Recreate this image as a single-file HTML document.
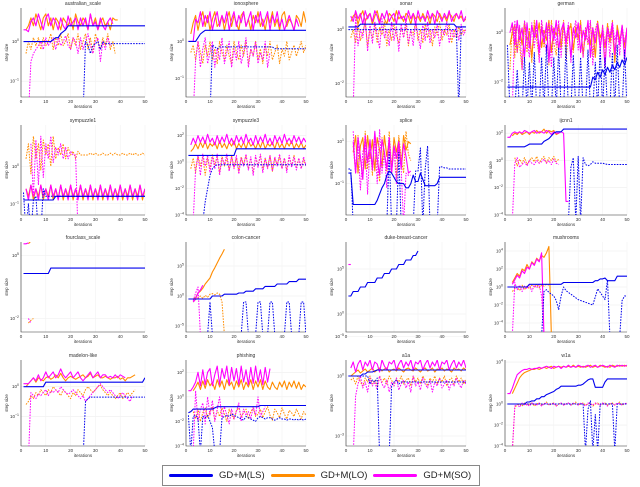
<!DOCTYPE html>
<html><head><meta charset="utf-8"><style>
body{margin:0;background:#fff;width:640px;height:487px;overflow:hidden;font-family:"Liberation Sans",sans-serif}
svg{display:block}
</style></head><body>
<svg id="fig" width="640" height="487"></svg>
<div style="position:absolute;left:162px;top:465px;width:318px;height:21px;border:1px solid #888;box-sizing:border-box;display:flex;align-items:center;font-size:9.5px;color:#222">
 <span style="display:flex;align-items:center;margin-left:6px"><i style="display:inline-block;width:44px;height:3px;background:#0000ee;border-radius:2px;margin-right:6px"></i>GD+M(LS)</span>
 <span style="display:flex;align-items:center;margin-left:6px"><i style="display:inline-block;width:44px;height:3px;background:#ff8c00;border-radius:2px;margin-right:6px"></i>GD+M(LO)</span>
 <span style="display:flex;align-items:center;margin-left:6px"><i style="display:inline-block;width:44px;height:3px;background:#ff00ff;border-radius:2px;margin-right:6px"></i>GD+M(SO)</span>
</div>
<script>
const N=null, L=-9;
const titles=["australian_scale","ionosphere","sonar","german","sympuzzle1","sympuzzle3","splice","ijcnn1","fourclass_scale","colon-cancer","duke-breast-cancer","mushrooms","madelon-like","phishing","a1a","w1a"];
const yRanges=[[-1.4,0.85],[-1.5,0.9],[-2.5,0.8],[-2.6,1.0],[-1.3,1.1],[-4,2.8],[-2.5,1.8],[-4,2.6],[-3.5,6.5],[-6,9],[-2,8],[-5,5],[-2,0.9],[-4,3],[-3.5,0.8],[-4,4.2]];
const tickVals=[[0,-1],[0,-1],[0,-2],[0,-2],[0,-1],[2,0,-2,-4],[1,-1],[2,0,-2,-4],[5,-2],[5,0,-5],[5,0,-5],[4,2,0,-2,-4],[0,-1],[2,0,-2,-4],[0,-3],[4,0,-2,-4]];
const lsSolid=[
[0,0,0,0,0,0,0,0,0,0,0,0,0.05,0.1,0.1,0.2,0.25,0.3,0.4,0.4,0.4,0.4,0.4,0.4,0.4,0.4,0.4,0.4,0.4,0.4,0.4,0.4,0.4,0.4,0.4,0.4,0.4,0.4,0.4,0.4,0.4,0.4,0.4,0.4,0.4,0.4,0.4,0.4,0.4,0.4],
[0,0,0,0,0.1,0.2,0.25,0.3,0.3,0.3,0.3,0.3,0.3,0.3,0.3,0.3,0.3,0.3,0.3,0.3,0.3,0.3,0.3,0.3,0.3,0.3,0.3,0.3,0.3,0.3,0.3,0.3,0.3,0.3,0.3,0.3,0.3,0.3,0.3,0.3,0.3,0.3,0.3,0.3,0.3,0.3,0.3,0.3,0.3,0.3],
[0.1,0.1,0.1,0.1,0.1,0.2,0.2,0.2,0.2,0.2,0.2,0.2,0.2,0.2,0.2,0.2,0.2,0.2,0.2,0.2,0.2,0.2,0.2,0.2,0.2,0.2,0.2,0.2,0.2,0.2,0.2,0.2,0.2,0.2,0.2,0.2,0.2,0.2,0.2,0.2,0.2,0.2,0.2,0.2,0.2,0.1,0.1,0.1,0.1,0.1],
[-2.2,-2.2,-2.2,-2.2,-2.2,-2.2,-2.2,-2.2,-2.2,-2.2,-2.2,-2.2,-2.2,-2.2,-2.2,-2.2,-2.2,-2.2,-2.2,-2.2,-2.2,-2.2,-2.2,-2.2,-2.2,-2.2,-2.2,-2.2,-2.2,-2.2,-2.2,-2.2,-2.2,-2.2,-2.2,-1.8,-1.9,-1.6,-1.8,-1.5,-1.7,-1.4,-1.6,-1.3,-1.5,-1.2,-1.4,-1.1,-1.3,-1.0],
[-0.9,-0.9,-0.9,-0.9,-0.9,-0.9,-0.9,-0.9,-0.9,-0.9,-0.9,-0.9,-0.9,-0.8,-0.8,-0.8,-0.8,-0.8,-0.8,-0.8,-0.8,-0.8,-0.8,-0.8,-0.8,-0.8,-0.8,-0.8,-0.8,-0.8,-0.8,-0.8,-0.8,-0.8,-0.8,-0.8,-0.8,-0.8,-0.8,-0.8,-0.8,-0.8,-0.8,-0.8,-0.8,-0.8,-0.8,-0.8,-0.8,-0.8],
[0.5,0.5,0.5,0.5,0.5,0.5,0.5,0.5,0.5,0.5,0.5,0.5,0.5,0.5,0.5,0.5,0.5,0.5,0.5,0.5,1,1,1,1,1,1,1,1,1,1,1,1,1,1,1,1,1,1,1,1,1,1,1,1,1,1,1,1,1,1],
[-0.5,-0.5,-2,-2,-2,-2,-2,-2,-2,-2,-2,-2,-1.8,-1.5,-1.2,-1,-0.6,-0.4,-0.5,-0.7,-0.9,-1,-1,-1,-1.2,-1.2,-1,-0.6,-0.9,-0.9,-0.5,-0.8,-1.1,-1.1,-1.1,-1.1,-1.1,-1,-0.7,-0.7,-0.7,-0.7,-0.7,-0.7,-0.7,-0.7,-0.7,-0.7,-0.7,-0.7],
[1,1,1,1,1,1,1,1,1.1,1.2,1.2,1.2,1.2,1.2,1.2,1.4,1.5,1.6,1.8,2,2.1,2.1,2.1,2.3,2.3,2.3,2.3,2.3,2.3,2.3,2.3,2.3,2.3,2.3,2.3,2.3,2.3,2.3,2.3,2.3,2.3,2.3,2.3,2.3,2.3,2.3,2.3,2.3,2.3,2.3],
[3,3,3,3,3,3,3,3,3,3,3,3.6,3.6,3.6,3.6,3.6,3.6,3.6,3.6,3.6,3.6,3.6,3.6,3.6,3.6,3.6,3.6,3.6,3.6,3.6,3.6,3.6,3.6,3.6,3.6,3.6,3.6,3.6,3.6,3.6,3.6,3.6,3.6,3.6,3.6,3.6,3.6,3.6,3.6,3.6],
[-0.5,-0.5,-0.5,-0.5,-0.5,-0.5,-0.5,-0.5,-0.5,-0.5,0,0,0,0,0,0.3,0.3,0.3,0.3,0.3,0.3,0.5,0.5,0.5,0.8,0.8,0.8,0.8,1.2,1.2,1.2,1.2,1.6,1.6,1.6,1.6,1.6,2,2,2,2,2,2.4,2.4,2.4,2.4,2.8,2.8,2.8,2.8],
[2,2,2.5,2.5,2.5,3,3,3,3.5,3.5,3.5,3.5,4,4,4,4.5,4.5,4.5,5,5,5,5.5,5.5,5.5,6,6,6,6.5,6.5,7],
[0,0,0,0,0,0,0,0,0,0.3,0.3,0.3,0.3,0.3,0.3,0.3,0.3,0.3,0.3,0.3,0.3,0.3,0.3,0.5,0.5,0.5,0.5,0.5,0.5,0.5,0.5,0.5,0.5,0.5,0.5,0.5,0.7,0.7,0.9,0.9,1,0.7,0.7,0.7,0.7,1.2,1.2,1.2,1.2,1.2],
[0,0,0,0,0,0,0,0,0,0.15,0.15,0.15,0.15,0.15,0.15,0.15,0.15,0.15,0.15,0.15,0.15,0.15,0.15,0.15,0.15,0.15,0.15,0.15,0.15,0.15,0.15,0.15,0.15,0.15,0.15,0.15,0.15,0.15,0.15,0.15,0.15,0.15,0.15,0.15,0.15,0.15,0.15,0.15,0.15,0.3],
[-1.3,-1.2,-1,-1,-1,-1,-1,-1,-1,-1,-1,-0.9,-0.8,-0.8,-0.8,-0.8,-0.8,-0.8,-0.8,-0.8,-0.8,-0.8,-0.8,-0.8,-0.8,-0.8,-0.8,-0.8,-0.8,-0.8,-0.7,-0.7,-0.7,-0.7,-0.7,-0.7,-0.7,-0.7,-0.7,-0.7,-0.7,-0.7,-0.7,-0.7,-0.7,-0.7,-0.7,-0.7,-0.7,-0.7],
[0,0,0,0,0,0,0.1,0.1,0.2,0.2,0.2,0.25,0.3,0.3,0.3,0.3,0.3,0.3,0.3,0.3,0.3,0.3,0.3,0.3,0.3,0.3,0.3,0.3,0.3,0.3,0.3,0.3,0.3,0.3,0.3,0.3,0.3,0.3,0.3,0.3,0.3,0.3,0.3,0.3,0.3,0.3,0.3,0.3,0.3,0.3],
[0,0,0,0,0,0,0,0,0.2,0.2,0.3,0.3,0.5,0.5,0.7,0.7,0.9,1,1.1,1.2,1.4,1.5,1.7,1.7,1.7,1.7,1.7,1.7,1.7,1.8,1.8,1.9,2.1,2.3,2.4,2.4,1.6,1.6,1.6,1.6,2.1,2.4,2.4,2.4,2.4,2.4,2.4,2.4,2.4,2.4]
];
const lsDash=[
[L,L,L,L,L,L,L,L,L,L,L,L,L,L,L,L,L,L,L,L,L,L,L,L,L,0,-0.1,-0.3,-0.1,-0.05,0,-0.2,0,-0.05,-0.05,-0.05,-0.05,-0.05,-0.05,-0.05,-0.05,-0.05,-0.05,-0.05,-0.05,-0.05,-0.05,-0.05,-0.05,-0.05],
[L,L,L,L,L,L,L,L,L,L,-0.1,-0.15,-0.2,-0.15,-0.15,-0.15,-0.15,-0.15,-0.15,-0.15,-0.15,-0.15,-0.15,-0.15,-0.15,-0.15,-0.15,-0.15,-0.15,-0.15,-0.15,-0.15,-0.15,-0.15,-0.15,-0.15,-0.2,-0.2,-0.2,-0.2,-0.2,-0.2,-0.2,-0.2,-0.2,-0.2,-0.2,-0.2,-0.2,-0.2],
[0,0,0,0,0,0,0,0,0,0,0,0,0,0,0,0,0,0,0,0,0,0,0,0,0,0,0,0,0,0,0,0,0,0,0,0,0,0,0,0,0,0,0,0,0,0,L,0.1,0.1,0.1],
[-0.5,L,L,L,-1.5,L,L,-1,L,-1.2,L,-0.8,L,L,-1,L,-0.5,L,L,-1,L,-0.6,L,L,-0.5,L,L,-0.9,L,L,-1,L,L,-0.7,L,L,-1.2,L,-0.6,L,-1,L,L,-0.8,L,-0.5,L,L,-0.7,L],
[-0.7,L,-1,L,-0.9,-0.8,L,L,-0.6,-0.8,-0.8,-0.8,-0.8,-0.8,-0.8,-0.8,-0.8,-0.8,-0.8,-0.8,-0.8,-0.8,-0.8,-0.8,-0.8,-0.8,-0.8,-0.8,-0.8,-0.8,-0.8,-0.8,-0.8,-0.8,-0.8,-0.8,-0.8,-0.8,-0.8,-0.8,-0.8,-0.8,-0.8,-0.8,-0.8,-0.8,-0.8,-0.8,-0.8,-0.8],
[L,L,L,L,L,L,L,-3,-2,-1,-0.5,-0.3,-0.2,-0.2,-0.2,-0.2,-0.2,-0.2,-0.2,-0.2,-0.2,-0.2,-0.2,-0.2,-0.2,-0.2,-0.2,-0.2,-0.2,-0.2,-0.2,-0.2,-0.2,-0.2,-0.2,-0.2,-0.2,-0.2,-0.2,-0.2,-0.2,-0.2,-0.2,-0.2,-0.2,-0.2,-0.2,-0.2,-0.2,-0.2],
[-0.3,-0.3,L,L,L,L,L,L,L,L,L,L,L,L,L,L,L,0.5,L,L,L,0.5,L,L,L,L,L,L,-0.4,-0.4,0.7,L,-0.3,0.8,L,L,L,L,-0.2,-0.2,-0.25,-0.25,-0.3,-0.3,-0.3,-0.3,-0.3,-0.3,-0.3,-0.3],
[L,L,L,L,L,L,L,L,L,L,L,L,L,L,L,L,L,L,L,L,L,L,L,L,L,L,-0.5,0.2,L,0.3,L,0.2,-0.3,-0.4,-0.3,-0.1,-0.2,-0.2,-0.2,-0.2,-0.25,-0.3,-0.3,-0.3,-0.3,-0.3,-0.3,-0.3,-0.3,-0.3],
[],
[L,L,L,L,L,L,L,L,L,-1,L,L,L,L,L,L,L,L,L,L,L,L,L,-1,-1,L,L,L,L,-1,-1,L,L,L,-1,-1,L,L,L,L,L,-1,-1,L,L,L,L,-1,-1,L],
[],
[L,L,L,L,L,L,L,L,L,L,L,L,L,L,L,-0.5,-0.3,-0.6,-0.8,-1,-1.5,-2.5,-1,0,-0.4,-0.6,-0.8,-1,-1.2,-1.4,-1.5,-1.6,-1.7,-1.8,-1.9,-2,-1.1,-0.2,-0.6,-1,-1.4,0.8,L,L,L,L,L,-1.5,-1,-1],
[L,L,L,L,L,L,L,L,L,L,L,L,L,L,L,L,L,L,L,L,L,L,L,L,L,-0.5,-0.4,-0.35,-0.35,-0.35,-0.35,-0.35,-0.35,-0.35,-0.35,-0.35,-0.35,-0.35,-0.35,-0.35,-0.35,-0.35,-0.35,-0.35,-0.35,-0.35,-0.35,-0.35,-0.35,-0.35],
[-1.5,L,-1.6,-1.5,-1.8,L,-1.6,-1.7,-1.5,-2,-2.5,L,L,L,-1.7,-1.6,-1.5,-1.6,-1.4,-1.5,-1.6,-1.7,-1.8,-1.9,-1.6,-1.7,-1.8,-1.9,-2,-1.7,-1.6,-1.7,-1.8,-1.7,-1.7,-1.8,-1.9,-1.8,-1.7,-1.8,-1.8,-1.9,-1.8,-1.8,-1.9,-1.8,-1.9,-1.8,-1.9,-1.8],
[0,0,0,0,0,0,0,0,0,-0.4,-0.2,-0.3,-0.1,L,L,L,L,L,-0.5,-0.3,-0.2,-0.4,-0.3,-0.3,-0.3,-0.3,-0.3,-0.3,-0.3,-0.3,-0.3,-0.3,-0.3,-0.3,-0.3,-0.3,-0.3,-0.3,-0.3,-0.3,-0.3,-0.3,-0.3,-0.3,-0.3,-0.3,-0.3,-0.3,-0.3,-0.3],
[0,0,0,0,0,0,0,0,0,0,0,0,0,0,0,0,0,0,0,0,0,0,0,0,0,0,0,0,0,0,0,0,L,-0.5,0.3,L,-1,L,0,0,0,0,0,0,L,0,0,0,0,0]
];
const loSolid=[
[N,0.3,0.4,0.6,0.4,0.7,0.5,0.3,0.6,0.7,0.4,0.6,0.3,0.6,0.5,0.3,0.6,0.5,0.4,0.6,0.3,0.7,0.5,0.4,0.6,0.5,0.3,0.7,0.4,0.6,0.3,0.5,0.6,0.4,0.5,0.3,0.6,0.55,0.55],
[N,0.2,0.5,0.7,0.3,0.6,0.8,0.4,0.7,0.3,0.6,0.8,0.4,0.5,0.7,0.3,0.6,0.8,0.4,0.7,0.5,0.3,0.7,0.8,0.4,0.6,0.3,0.7,0.5,0.8,0.4,0.6,0.3,0.7,0.5,0.8,0.4,0.6,0.3,0.7,0.8,0.4,0.6,0.5,0.3,0.7,0.6,0.4,0.8,0.5],
[N,0.3,0.5,0.6,0.2,0.5,0.7,0.3,0.5,0.6,0.2,0.5,0.7,0.3,0.6,0.4,0.2,0.6,0.5,0.3,0.7,0.4,0.5,0.3,0.6,0.5,0.2,0.6,0.4,0.5,0.3,0.6,0.4,0.5,0.2,0.6,0.5,0.3,0.6,0.4,0.5,0.3,0.6,0.5,0.3,0.6,0.4,0.5,0.3,0.4],
[N,-0.5,0,0.3,-0.8,0.2,-0.5,0.4,-0.3,0,-1,0.3,-0.2,0.4,-0.6,0.1,-0.3,0.5,-0.8,0.2,-0.1,0.3,-0.6,0.4,-0.4,0.1,0.3,-0.7,0.2,-0.2,0.4,-0.9,0,0.3,-0.5,0.2,-1,0.4,-0.2,0.1,-0.6,0.3,-0.4,0.2,-1.2,0.3,-0.3,0.1,-0.5,0.2],
[N,-0.6,-0.8,-0.5,-0.9,-0.6,-0.8,-0.5,-0.9,-0.6,-0.8,-0.5,-0.9,-0.6,-0.85,-0.5,-0.9,-0.6,-0.8,-0.5,-0.9,-0.6,-0.8,-0.5,-0.9,-0.6,-0.8,-0.5,-0.9,-0.6,-0.8,-0.5,-0.9,-0.6,-0.8,-0.5,-0.9,-0.6,-0.8,-0.5,-0.9,-0.6,-0.8,-0.5,-0.9,-0.6,-0.8,-0.5,-0.9,-0.6],
[N,0.8,1,1.4,1,1.5,1.1,1.6,1,1.4,1.2,1.5,1,1.6,1.1,1.4,1,1.5,1.2,1.6,1,1.4,1.1,1.5,1,1.6,1.2,1.4,1,1.5,1.1,1.6,1,1.4,1.2,1.5,1,1.6,1.1,1.4,1,1.5,1.2,1.6,1,1.4,1.1,1.5,1,1.3],
[N,N,0.5,1.3,-0.5,0.8,1.2,-0.3,1.3,0.2,1.1,-0.4,1.2,0.6,-0.2,1.3,0.3,1.0,-0.5,1.2,0.5,1.1,-0.2,1.3,0.6,1.0,0.9],
[N,N,1.8,2.0,1.9,2.1,1.9,2.0,2.1,1.9,2.1,2.0,2.2,2.0,2.1,2.3,2.0,2.2,2.1,2.2,1.9,2.0],
[N,N,6.3,6.6,6.8],
[N,N,-0.5,-0.3,0.5,0.8,1.3,2,2.5,3,4,4.7,5.5,6.3,7,7.8],
[],
[N,N,0.5,1,1.5,1.2,2,1.8,2.5,2,2.8,2.5,3.2,2.9,3.5,3.3,3.8,4.5,L],
[N,0,0.1,0.2,0.3,0.15,0.3,0.25,0.2,0.3,0.35,0.25,0.3,0.4,0.3,0.45,0.3,0.2,0.3,0.35,0.3,0.25,0.3,0.35,0.4,0.3,0.35,0.45,0.3,0.35,0.4,0.3,0.3,0.35,0.3,0.25,0.3,0.3,0.35,0.25,0.3,0.2,0.3,0.3,0.35,0.4],
[N,N,0.5,0.8,1.2,0.6,1.3,0.7,1.4,0.9,1.2,0.6,1.4,0.8,1.3,0.6,1.4,0.9,1.2,0.6,1.3,0.8,1.4,0.6,1.2,0.8,1.4,0.6,1.3,0.8,1.4,0.6,1.3,0.8,0.6,1.2,0.8,0.6,1.2,0.8,1.3,0.6,1.2,0.8,1.3,0.7,1.2,0.6,1.0,0.8],
[N,0,0.1,0.2,0.3,0.15,0.25,0.35,0.2,0.3,0.4,0.2,0.3,0.4,0.25,0.35,0.4,0.2,0.3,0.35,0.25,0.4,0.3,0.2,0.35,0.4,0.3,0.25,0.4,0.3,0.2,0.35,0.4,0.25,0.3,0.4,0.2,0.35,0.3,0.4,0.25,0.35,0.3,0.2,0.4,0.3,0.35,0.25,0.4,0.3],
[N,N,1,1.5,2,2.5,2.8,3,3.1,3.2,3.3,3.3,3.4,3.3,3.4,3.5,3.4,3.5,3.6,3.4,3.5,3.6,3.5,3.6,3.5,3.6,3.5,3.7,3.5,3.6,3.5,3.6,3.5,3.6,3.7,3.5,3.6,3.5,3.7,3.6,3.5,3.6,3.5,3.7,3.6,3.6,3.7,3.6,3.7,3.6]
];
const loDash=[
[N,-0.3,0,-0.2,0.1,-0.1,0.1,-0.2,0.1,-0.1,0,0.2,-0.2,0.1,-0.1,0.2,-0.1,0,0.2,-0.2,0.1,-0.1,0.2,-0.2,0,0.2,-0.2,0.1,-0.3,0.2,0,-0.2,0.1,-0.1,0.2,-0.2,0,-0.3],
[N,-0.3,-0.1,-0.5,0,-0.3,-0.6,-0.1,-0.4,0,-0.5,-0.2,-0.6,0,-0.3,-0.5,-0.1,-0.4,-0.6,0,-0.3,-0.5,-0.1,-0.4,0,-0.6,-0.2,-0.4,0,-0.5,-0.2,-0.6,-0.1,-0.4,0,-0.5,-0.3,-0.1,-0.6,-0.2,-0.4,0,-0.5,-0.3,-0.1,-0.4,-0.2,0,-0.3,-0.1],
[N,-0.3,0,-0.5,0.2,-0.4,-0.1,0.3,-0.6,0,-0.3,0.2,-0.5,0.1,-0.2,0.3,-0.6,0,-0.4,0.2,-0.2,-0.5,0.1,-0.3,0.2,-0.6,0,-0.2,0.3,-0.4,0,-0.5,0.2,-0.3,0,-0.6,0.1,-0.2,0.3,-0.4,0,-0.2,0.2,-0.5,0,-0.3,0.1,-0.2,0,-0.1],
[N,-1.5,0.3,-1,0.5,-0.5,-1.5,0.4,-0.8,0.2,-1.2,0.5,-0.3,-1,0.4,-0.6,0.2,-1.3,0.5,-0.4,-0.9,0.3,-0.5,0.5,-1.1,0,0.4,-0.8,0.3,-0.3,0.5,-1,0.2,-0.5,0.4,-0.9,0.1,0.5,-0.6,0.3,-1.2,0.4,-0.2,0.5,-0.8,0.2,-0.4,0.3,-0.6,0.2],
[N,0.2,0.6,-0.2,0.8,0.2,0.6,-0.1,0.7,0.3,0.6,0,0.8,0.2,0.5,0.3,0.6,0.2,0.5,0.3,0.4,0.2,0.4,0.3,0.3,0.3,0.3,0.35,0.3,0.35,0.3,0.3,0.35,0.3,0.3,0.35,0.3,0.35,0.3,0.3,0.35,0.3,0.3,0.35,0.3,0.35,0.3,0.3,0.35,0.3],
[N,-0.5,0.3,-0.8,0.5,-0.3,0.4,-1,0.3,-0.5,0.6,-0.2,0.4,-0.8,0.5,-0.3,0.3,-0.6,0.5,-0.4,0.3,-0.7,0.4,-0.2,0.5,-0.5,0.3,-0.8,0.4,-0.3,0.5,-0.6,0.3,-0.4,0.5,-0.7,0.3,-0.2,0.4,-0.5,0.3,-0.6,0.4,-0.3,0.5,-0.4,0.3,-0.5,0.2,-0.3],
[N,N,0.8,-0.5,1.3,0.2,-0.8,1.5,-0.3,1,-0.6,1.4,0,-0.9,1.2,0.3,-0.4,1.5,-0.2,0.8,-0.7,1.3,0.2,-0.5,1.5,0.4,0.1],
[N,N,N,0.2,-0.4,0.1,-0.2,0.2,-0.3,0,0.2,-0.1,0.3,-0.2,0.1,0.3,-0.2,0.2,0,0.3,-0.1,0.1],
[N,N,-2.5,-2.2,-2.0],
[N,N,-1,-0.6,-0.3,0,-0.4,0.1,-0.2,0.3,0.4,0.2,0.5,0.3,-1,L],
[],
[N,N,-0.5,-0.2,0,-0.4,0.2,-0.3,0.1,-0.2,0.2,0,0.3,-0.1,0.2,0.1,0.3,0.2],
[N,-0.6,-0.5,-0.3,-0.4,-0.2,-0.3,-0.1,-0.2,-0.3,-0.1,-0.2,0,-0.1,-0.2,-0.3,-0.1,-0.2,-0.3,-0.4,-0.2,-0.3,-0.1,-0.2,-0.3,-0.1,0,-0.1,-0.2,-0.1,0,0.05,-0.1,-0.2,-0.3,-0.2,-0.3,-0.4,-0.3,-0.2,-0.4,-0.3,-0.2,-0.3,-0.2,-0.1],
[N,N,-1.2,-1.8,-1.0,-2,-1.3,-0.9,-1.7,-1.2,-0.8,-1.9,-1.1,-1.6,-0.9,-1.4,-2,-1,-1.5,-1.8,-1.1,-0.9,-1.6,-1.3,-1,-1.8,-1.2,-0.9,-1.6,-1.4,-1,-1.7,-1.2,-0.8,-1.5,-1.9,-1,-1.3,-1.7,-0.9,-1.4,-1.8,-1.1,-1.3,-1.6,-1,-1.4,-1.8,-1.2,-1.5],
[N,-0.2,-0.1,-0.4,0,-0.3,-0.5,-0.1,-0.3,0,-0.4,-0.2,-0.5,0,-0.3,-0.1,-0.4,0,-0.2,-0.5,-0.1,-0.3,0,-0.4,-0.2,-0.1,-0.5,0,-0.3,-0.1,-0.4,0,-0.2,-0.5,-0.1,-0.3,0,-0.4,-0.1,-0.3,0,-0.5,-0.2,-0.1,-0.4,0,-0.3,-0.1,-0.4,-0.2],
[N,N,L,-0.3,-0.1,0,-0.2,0.1,-0.1,0,0.1,-0.2,0,0.1,-0.1,0,0.2,-0.1,0,0.1,-0.2,0,0.1,-0.1,0,0.1,-0.1,0,0.2,-0.1,0,0.1,-0.1,0,0.1,-0.2,0,0.1,-0.1,0,0.1,-0.1,0,0.1,-0.1,0,0.2,-0.1,0,0.1]
];
const soSolid=[
[0.3,0.3,0.25,0.5,0.6,0.4,0.7,0.5,0.3,0.6,0.7,0.4,0.6,0.5,0.3,0.6,0.4,0.3,0.65,0.4,0.5,0.6,0.3,0.6,0.4,0.6,0.3,0.7,0.4,0.5,0.3,0.6,0.4,0.3,0.5,0.6,0.45],
[0,0,0,0.6,0.5,0.8,0.4,0.7,0.5,0.8,0.3,0.6,0.8,0.4,0.7,0.5,0.8,0.3,0.6,0.8,0.4,0.7,0.5,0.8,0.4,0.6,0.8,0.3,0.7,0.5,0.8,0.4,0.6,0.8,0.3,0.7,0.5,0.8,0.4,0.6,0.3,0.5,0.7,0.5,0.3,0.6,0.4],
[N,0.5,0.3,0.7,0.4,0.6,0.2,0.7,0.4,0.6,0.3,0.7,0.5,0.2,0.6,0.4,0.7,0.3,0.5,0.6,0.2,0.7,0.4,0.5,0.3,0.7,0.4,0.6,0.2,0.7,0.4,0.5,0.3,0.7,0.4,0.6,0.2,0.7,0.5,0.3,0.6,0.4,0.7,0.3,0.5,0.6,0.4,0.7,0.3,0.5],
[N,0,0.4,-0.5,0.5,-0.3,0.2,-1,0.4,-0.6,0.3,-0.2,0.5,-0.8,0.2,-0.4,0.4,-1.2,0.3,-0.3,0.5,-0.7,0.1,0.4,-0.5,0.3,-1,0.2,-0.2,0.4,-0.8,0.1,-0.3,0.5,-1,0.2,-0.4,0.3,-0.6,0.1,-1.4,0.2,-0.2,0.4,-0.9,0.1,-0.5,0.3,-1.1,0.2],
[N,-0.6,-0.9,-0.5,-0.8,-0.6,-0.9,-0.5,-0.8,-0.6,-0.9,-0.5,-0.8,-0.6,-0.9,-0.5,-0.8,-0.6,-0.9,-0.5,-0.8,-0.6,-0.9,-0.5,-0.8,-0.6,-0.9,-0.5,-0.8,-0.6,-0.9,-0.5,-0.8,-0.6,-0.9,-0.5,-0.8,-0.6,-0.9,-0.5,-0.8,-0.6,-0.9,-0.5,-0.8,-0.6,-0.9,-0.5,-0.8,-0.6],
[N,1.3,1.8,1.4,2,1.5,1.9,1.4,2.1,1.5,1.8,1.3,2,1.4,1.9,1.5,2.1,1.4,1.8,1.3,2,1.5,1.9,1.4,2.1,1.5,1.8,1.3,2,1.4,1.9,1.5,2.1,1.4,1.8,1.3,2,1.5,1.9,1.4,2.1,1.5,1.8,1.4,2,1.5,1.9,1.4,1.8,1.5],
[N,N,1.0,-0.5,1.2,0.3,-0.8,1.3,0,1.1,-0.3,1.5,0.2,-0.6,1.1,0.5,-0.3,1.2,-0.5,0.8,0.2,1.0,-0.3,0.9,0.3,-0.5,-0.4],
[1.7,1.7,2.0,2.1,2.0,2.1,2.0,2.2,2.1,2.0,2.1,2.2,2.0,2.1,2.1,2.0,2.2,2.1,1.9,2.1,2.0,2.0,2.1,2.0,-3,-3],
[6.3,6.3,6.4],
[N,N,-1,-0.5,0.5,1,1.8],
[5.5,5.5],
[N,N,0.3,0.8,1.3,1.0,1.8,1.5,2.2,2.0,2.7,2.4,3.1,2.8,3.8,L],
[0.1,0.1,0.1,0.2,0.3,0.2,0.4,0.2,0.3,0.5,0.3,0.4,0.5,0.3,0.4,0.6,0.4,0.3,0.4,0.5,0.3,0.4,0.5,0.3,0.2,0.3,0.4,0.5,0.3,0.4,0.5,0.3,0.4,0.4,0.3,0.35,0.3,0.4,0.3,0.4,0.35,0.3],
[0.5,0.5,0.8,1.2,2,0.9,2.2,1.0,2.0,2.3,0.9,1.8,2.5,1.0,2.3,1.5,2.5,1.0,2.4,1.3,2.3,1.0,2.5,1.2,2.2,1.0,2.4,1.1,2.5,1.2,2.2,1.0,2.4,1.2,2.3],
[N,0.4,0.7,0.2,0.6,0.8,0.3,0.7,0.5,0.8,0.3,0.7,0.6,0.2,0.8,0.5,0.3,0.7,0.6,0.8,0.3,0.6,0.8,0.4,0.7,0.5,0.8,0.3,0.7,0.6,0.8,0.3,0.6,0.8,0.4,0.7,0.5,0.8,0.3,0.7,0.6,0.8,0.3,0.6,0.8,0.4,0.7,0.5,0.8,0.4],
[1,1,1.5,2.2,2.8,3,3.2,3.3,3.3,3.4,3.3,3.4,3.4,3.5,3.4,3.5,3.6,3.5,3.4,3.6,3.5,3.6,3.4,3.6,3.5,3.7,3.5,3.6,3.5,3.7,3.6,3.5,3.6,3.7,3.5,3.6,3.7,3.5,3.6,3.7,3.6,3.5,3.7,3.6,3.5,3.7,3.6,3.7,3.6,3.7]
];
const soDash=[
[N,N,L,-0.5,-0.3,-0.2,-0.1,0,-0.2,0.1,-0.1,0,0.1,-0.2,0.1,-0.1,0,0.15,-0.1,-0.2,0.1,0,-0.3,0.1,-0.2,0,0.2,-0.1,-0.3,0,0.1,-0.5,0,-0.2,0.1,-0.1],
[N,N,L,-0.5,0,-0.7,-0.2,0.1,-0.6,-0.3,0,-0.7,-0.2,-0.5,0.1,-0.6,-0.3,0,-0.7,-0.2,-0.5,0,-0.6,-0.3,0.1,-0.7,-0.2,-0.4,0,-0.6,-0.3,-0.5,0,-0.7,-0.3],
[N,N,L,0.5,-0.6,0,-0.3,0.4,-0.8,0.2,-0.5,0.3,-0.2,-0.7,0.4,-0.3,0,-0.6,0.3,-0.4,0.1,-0.8,0.2,-0.3,0.4,-0.5,0,-0.6,0.3,-0.2,-0.7,0.2,-0.4,0.3,-0.5,0,-0.3,0.2,-0.6,0,-0.2,0.3,-0.5,0,-0.3,0.1,-0.4,0.2,-0.2,0],
[N,N,L,0.5,-0.8,0.3,-1.5,0.5,-0.3,-1,0.4,-0.6,0.3,-1.2,0.5,-0.2,-0.8,0.4,-1.4,0.2,-0.5,0.5,-1,0.3,-0.3,0.4,-1.2,0,0.5,-0.7,0.3,-1,0.2,-0.4,0.5,-1.3,0.1,0.4,-0.8,0.3,-0.5,0.2,-1,0.4,-0.3,0.1,-0.9,0.3,-0.4,0.2],
[N,N,N,0.6,-0.8,0.7,-0.5,0.8,-0.3,0.6,0.2,0.8,0.1,0.5,0.3,0.6,0.2,0.5,0.2,0.4,0.3,0.3,L],
[N,N,L,-0.5,0.5,-1,0.6,-0.3,0.5,-0.8,0.4,-0.5,0.6,-1,0.3,-0.2,0.6,-0.7,0.4,-0.5,0.5,-0.9,0.3,-0.3,0.6,-0.6,0.4,-1,0.5,-0.4,0.6,-0.8,0.3,-0.5,0.5,-0.7,0.4,-0.3,0.6,-0.5,0.3,-0.8,0.5,-0.4,0.4,-0.6,0.3,-0.5,0.4,-0.3],
[N,N,1.5,-0.5,0.8,-1.3,0.5,1.0,-1.5,0.8,-0.4,1.2,-1.0,1.6,-0.5,0.5,-1.2,1.2,-0.4,0.7,-1,0.8,-0.3,L,-0.5,-0.6,-0.6],
[N,N,L,-0.2,0.2,-0.5,-0.3,-0.1,-0.4,0,-0.2,-0.3,0,-0.2,-0.1,0.1,-0.2,0,-0.3,0.1,-0.2,-0.3],
[N,N,-2,-2.5],
[N,N,-0.8,0.5,1.5,L],
[],
[N,N,L,0.5,-0.3,0.2,-0.5,0.1,-0.2,0.3,-0.5,0.2,-0.1,0.3,-1,L],
[N,N,L,-0.2,-0.3,-0.4,-0.25,-0.3,-0.2,-0.1,-0.3,-0.15,-0.2,-0.1,-0.2,0,-0.1,-0.2,-0.25,-0.2,-0.1,-0.2,-0.3,-0.4,-0.3,-0.5,-0.4,-0.3,-0.2,-0.1,0,0.1,0,-0.1,-0.2,-0.1,-0.2,-0.3,-0.4,-0.3,-0.2,-0.3,-0.4,-0.5,-0.3],
[N,N,L,0.5,-2,-1,-0.5,-2.2,0,-1.5,-0.3,-2,-1,0,-1.8,-0.8,-1.5,-2.2,-1,-1.8,-1.2,-0.5,-2,-1,-1.5,-1.2,-1.8,-0.8,-1.5,0,-1.6,-1.2,-0.8],
[N,N,L,-1,-0.4,0,-0.6,-0.3,-0.8,-0.1,-0.5,-0.3,-0.7,0,-0.4,-0.6,-0.2,-0.8,-0.3,-0.5,-0.1,-0.7,-0.4,-0.2,-0.6,-0.3,-0.8,0,-0.5,-0.3,-0.7,-0.1,-0.4,-0.6,-0.2,-0.8,-0.3,-0.5,-0.1,-0.6,-0.4,-0.2,-0.7,-0.3,-0.5,-0.1,-0.4,-0.6,-0.2,-0.4],
[N,N,L,-0.2,0,-0.3,0.1,-0.1,0,-0.2,0.1,0,-0.1,0.1,-0.2,0,0.1,-0.1,0,0.1,-0.2,0,0.1,-0.1,0,0.1,-0.1,0.1,0,-0.1,0.1,0,-0.2,0.1,0,-0.1,0.1,0,-0.1,0.1,0,-0.2,0.1,0,-0.1,0.1,0,-0.1,0.1,0]
];
const xTicks=[0,10,20,30,40,50];

const NS="http://www.w3.org/2000/svg";
const svg=document.getElementById('fig');
const colX=[21,186,346,505], colW=[124,120,120,122];
const rowY=[8,125,242,360], rowH=[89,90,90,86];
const BLUE="#0000ee",ORANGE="#ff8c00",MAG="#ff00ff";
function mk(tag,attrs,parent){const e=document.createElementNS(NS,tag);for(const k in attrs)e.setAttribute(k,attrs[k]);(parent||svg).appendChild(e);return e;}
const defs=mk('defs',{});
for(let p=0;p<16;p++){
  const r=Math.floor(p/4),c=p%4;
  const x0=colX[c],w=colW[c],y0=rowY[r],h=rowH[r];
  const [ymin,ymax]=yRanges[p];
  const xs=v=>x0+v/50*w;
  const ys=v=>{const vv=Math.max(v,ymin-0.5);return y0+h-(vv-ymin)/(ymax-ymin)*h;};
  const g=mk('g',{});
  
  
  const cp=mk('clipPath',{id:'cp'+p},defs);mk('rect',{x:x0,y:y0,width:w,height:h},cp);
  for(const t of tickVals[p]){const gl=mk('line',{x1:x0,x2:x0+w,y1:ys(t),y2:ys(t),stroke:'#eee','stroke-width':0.6},g);
    }
  for(const t of xTicks){mk('line',{x1:xs(t),x2:xs(t),y1:y0,y2:y0+h,stroke:'#f2f2f2','stroke-width':0.6},g);}
  const ax=mk('path',{d:`M${x0},${y0}V${y0+h}H${x0+w}`,stroke:'#333','stroke-width':0.6,fill:'none'},g);
  
  for(const t of xTicks){
    const tl=mk('text',{x:xs(t),y:y0+h+6,'font-size':4.5,'text-anchor':'middle',fill:'#333'},g);tl.textContent=t;
    
  }
  for(const t of tickVals[p]){
    const tl=mk('text',{x:x0-2,y:ys(t)+1.5,'font-size':4.5,'text-anchor':'end',fill:'#333'},g);
    
    tl.textContent='10';const sp=mk('tspan',{dy:-2,'font-size':3.5},tl);sp.textContent=String(t).replace('-','\u2212');
  }
  const xl=mk('text',{x:x0+w/2,y:y0+h+11,'font-size':4.5,'text-anchor':'middle',fill:'#333'},g);xl.textContent='iterations';
  
  const yl=mk('text',{x:0,y:0,'font-size':4.5,'text-anchor':'middle',fill:'#333',transform:`translate(${x0-13},${y0+h/2}) rotate(-90)`},g);yl.textContent='step size';
  
  const tt=mk('text',{x:x0+w/2,y:y0-3,'font-size':5,'text-anchor':'middle',fill:'#333'},g);tt.textContent=titles[p];
  
  const sg=mk('g',{'clip-path':`url(#cp${p})`},g);
  const series=[[loSolid[p],ORANGE,false,'lo-solid'],[loDash[p],ORANGE,true,'lo-dashed'],[soSolid[p],MAG,false,'so-solid'],[soDash[p],MAG,true,'so-dashed'],[lsSolid[p],BLUE,false,'ls-solid'],[lsDash[p],BLUE,true,'ls-dashed']];
  for(const [arr,col,dash,nm] of series){
    let d='',pen=false;
    arr.forEach((v,i)=>{ if(v===null){pen=false;return;} d+=(pen?'L':'M')+xs(i+1).toFixed(1)+','+ys(v).toFixed(1);pen=true;});
    if(!d)continue;
    const pth=mk('path',{d:d,stroke:col,'stroke-width':dash?1.0:1.1,fill:'none','stroke-dasharray':dash?'1.6,1.2':'none','stroke-linejoin':'round'},sg);
    
    
  }
}
</script>
</body></html>
